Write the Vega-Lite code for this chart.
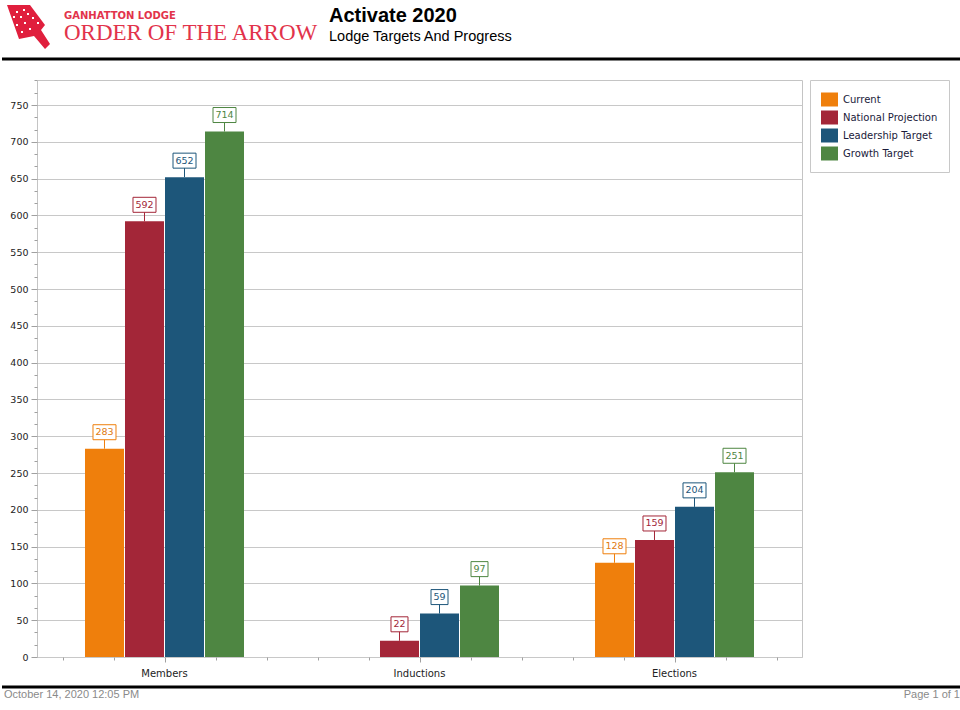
{
  "$schema": "https://vega.github.io/schema/vega-lite/v6.json",
  "padding": {"top": 1, "left": 0, "right": 0, "bottom": 0},
  "background": "white",
  "config": {"view": {"stroke": null}},
  "datasets": {
    "targets": [
      {"category": "Members", "series": "Current", "value": 283},
      {"category": "Members", "series": "National Projection", "value": 592},
      {"category": "Members", "series": "Leadership Target", "value": 652},
      {"category": "Members", "series": "Growth Target", "value": 714},
      {"category": "Inductions", "series": "Current", "value": 0},
      {"category": "Inductions", "series": "National Projection", "value": 22},
      {"category": "Inductions", "series": "Leadership Target", "value": 59},
      {"category": "Inductions", "series": "Growth Target", "value": 97},
      {"category": "Elections", "series": "Current", "value": 128},
      {"category": "Elections", "series": "National Projection", "value": 159},
      {"category": "Elections", "series": "Leadership Target", "value": 204},
      {"category": "Elections", "series": "Growth Target", "value": 251}
    ]
  },
  "spacing": 13,
  "resolve": {"scale": {"color": "independent"}, "legend": {"color": "independent"}},
  "vconcat": [
    {
      "spacing": 0,
      "bounds": "flush",
      "hconcat": [
        {
          "width": 61,
          "height": 58,
          "data": {"values": [{"name": "Order of the Arrow"}]},
          "layer": [
            {
              "mark": {"type": "rule", "color": "black", "strokeWidth": 3},
              "encoding": {"y": {"datum": 0, "type": "quantitative", "scale": {"domain": [0, 1]}, "axis": null}}
            },
            {
              "mark": {
                "type": "point",
                "shape": "M-25.5,-25L-2.5,-25L12.5,-5L8.5,0L17.5,14L12.5,19L1.5,6L-13.5,9Z M-16.5,-19v2h2v-2z M-9.5,-21v2h2v-2z M-19.5,-14v2h2v-2z M-12.5,-14v2h2v-2z M-5.5,-17v2h2v-2z M-16.5,-6v2h2v-2z M-8.5,-8v2h2v-2z M-0.5,-13v2h2v-2z M-11.5,1v2h2v-2z M-3.5,-2v2h2v-2z M4.5,-8v2h2v-2z",
                "size": 4,
                "filled": true,
                "fill": "#e01f3d",
                "opacity": 1,
                "strokeWidth": 0
              },
              "encoding": {}
            }
          ]
        },
        {
          "width": 266,
          "height": 58,
          "data": {"values": [{}]},
          "title": {
            "text": "GANHATTON LODGE",
            "subtitle": "ORDER OF THE ARROW",
            "anchor": "start",
            "frame": "group",
            "offset": -44,
            "dx": 1,
            "font": "DejaVu Sans",
            "fontSize": 10,
            "fontWeight": "bold",
            "color": "#e2334b",
            "subtitleFont": "Liberation Serif",
            "subtitleFontSize": 23,
            "subtitleColor": "#e2334b",
            "subtitlePadding": 1
          },
          "mark": {"type": "rule", "color": "black", "strokeWidth": 3},
          "encoding": {"y": {"datum": 0, "type": "quantitative", "scale": {"domain": [0, 1]}, "axis": null}}
        },
        {
          "width": 633,
          "height": 58,
          "data": {"values": [{}]},
          "title": {
            "text": "Activate 2020",
            "subtitle": "Lodge Targets And Progress",
            "anchor": "start",
            "frame": "group",
            "offset": -42,
            "font": "Liberation Sans",
            "fontSize": 20,
            "fontWeight": "bold",
            "color": "black",
            "subtitleFont": "Liberation Sans",
            "subtitleFontSize": 14.5,
            "subtitleColor": "black",
            "subtitlePadding": 4
          },
          "mark": {"type": "rule", "color": "black", "strokeWidth": 3},
          "encoding": {"y": {"datum": 0, "type": "quantitative", "scale": {"domain": [0, 1]}, "axis": null}}
        }
      ]
    },
    {
      "spacing": 6,
      "resolve": {"scale": {"color": "independent"}, "legend": {"color": "independent"}},
      "vconcat": [
        {
          "spacing": 0,
          "bounds": "flush",
          "resolve": {"scale": {"color": "independent"}, "legend": {"color": "independent"}},
          "hconcat": [
            {
              "width": 35,
              "height": 1,
              "data": {"values": [{}]},
              "mark": {"type": "rule", "color": "white", "opacity": 0, "strokeWidth": 1},
              "encoding": {"y": {"datum": 0, "type": "quantitative", "scale": {"domain": [0, 1]}, "axis": null}}
            },
            {
              "width": 765,
              "height": 577,
              "view": {"stroke": "#c4c4c4"},
              "data": {"name": "targets"},
              "layer": [
                {
                  "encoding": {
                    "x": {
                      "field": "category",
                      "type": "nominal",
                      "sort": ["Members", "Inductions", "Elections"],
                      "scale": {"paddingInner": 0.0627, "paddingOuter": 0.03135},
                      "axis": {
                        "title": null,
                        "ticks": false,
                        "domain": false,
                        "labelAngle": 0,
                        "labelFont": "DejaVu Sans",
                        "labelFontSize": 10,
                        "labelColor": "#222222",
                        "labelPadding": 11
                      }
                    },
                    "xOffset": {
                      "field": "series",
                      "type": "nominal",
                      "sort": ["Current", "National Projection", "Leadership Target", "Growth Target"],
                      "scale": {"paddingInner": 0.025, "paddingOuter": 1}
                    },
                    "y": {
                      "field": "value",
                      "type": "quantitative",
                      "scale": {"domain": [0, 784], "nice": false},
                      "axis": {
                        "title": null,
                        "values": [0, 16.6667, 33.3333, 50, 66.6667, 83.3333, 100, 116.6667, 133.3333, 150, 166.6667, 183.3333, 200, 216.6667, 233.3333, 250, 266.6667, 283.3333, 300, 316.6667, 333.3333, 350, 366.6667, 383.3333, 400, 416.6667, 433.3333, 450, 466.6667, 483.3333, 500, 516.6667, 533.3333, 550, 566.6667, 583.3333, 600, 616.6667, 633.3333, 650, 666.6667, 683.3333, 700, 716.6667, 733.3333, 750, 766.6667, 783.3333],
                        "labelExpr": "datum.value % 50 === 0 ? datum.label : ''",
                        "labelOverlap": false,
                        "labelFont": "DejaVu Sans",
                        "labelFontSize": 9.5,
                        "labelColor": "#222222",
                        "labelPadding": 3,
                        "domain": false,
                        "tickColor": "#a0a0a0",
                        "tickSize": {"condition": {"test": "datum.value % 50 === 0", "value": 6}, "value": 3},
                        "gridColor": "#c8c8c8",
                        "gridOpacity": {"condition": {"test": "datum.value % 50 === 0", "value": 1}, "value": 0}
                      }
                    }
                  },
                  "layer": [
                    {
                      "mark": {"type": "bar"},
                      "encoding": {
                        "color": {
                          "field": "series",
                          "type": "nominal",
                          "scale": {
                            "domain": ["Current", "National Projection", "Leadership Target", "Growth Target"],
                            "range": ["#ef7f0c", "#a32638", "#1d567a", "#4e8642"]
                          },
                          "legend": {
                            "title": null,
                            "orient": "right",
                            "offset": 8,
                            "padding": 11,
                            "strokeColor": "#c8c8c8",
                            "fillColor": "white",
                            "symbolType": "M-1,-0.8235H1V0.8235H-1Z",
                            "symbolSize": 289,
                            "symbolStrokeWidth": 0,
                            "symbolOpacity": 1,
                            "labelFont": "DejaVu Sans",
                            "labelFontSize": 10,
                            "labelColor": "#1a1a3a",
                            "labelOffset": 5,
                            "rowPadding": 2,
                            "labelLimit": 200
                          }
                        }
                      }
                    },
                    {
                      "transform": [{"filter": "datum.value > 0"}],
                      "mark": {"type": "point", "filled": true, "fill": "white", "size": 4, "opacity": 1, "strokeWidth": 1},
                      "encoding": {
                        "stroke": {
                          "condition": [
                            {"test": "datum.series === 'Current'", "value": "#ef7f0c"},
                            {"test": "datum.series === 'National Projection'", "value": "#a32638"},
                            {"test": "datum.series === 'Leadership Target'", "value": "#1d567a"}
                          ],
                          "value": "#4e8642"
                        },
                        "shape": {
                          "condition": {"test": "datum.value < 100", "value": "M0,0V-9M-8.5,-9H8.5V-24H-8.5Z"},
                          "value": "M0,0V-9M-11.5,-9H11.5V-24H-11.5Z"
                        }
                      }
                    },
                    {
                      "transform": [{"filter": "datum.value > 0"}],
                      "mark": {"type": "text", "dy": -16.5, "baseline": "middle", "font": "DejaVu Sans", "fontSize": 9.5},
                      "encoding": {
                        "text": {"field": "value", "type": "quantitative"},
                        "color": {
                          "condition": [
                            {"test": "datum.series === 'Current'", "value": "#e07a10"},
                            {"test": "datum.series === 'National Projection'", "value": "#a32638"},
                            {"test": "datum.series === 'Leadership Target'", "value": "#1d567a"}
                          ],
                          "value": "#4e8642"
                        }
                      }
                    }
                  ]
                },
                {
                  "mark": {"type": "rule", "opacity": 0},
                  "encoding": {
                    "x": {
                      "datum": 0,
                      "type": "quantitative",
                      "scale": {"domain": [0, 15], "nice": false, "zero": false},
                      "axis": {
                        "orient": "bottom",
                        "title": null,
                        "values": [0.5, 1.5, 2.5, 3.5, 4.5, 5.5, 6.5, 7.5, 8.5, 9.5, 10.5, 11.5, 12.5, 13.5, 14.5],
                        "labels": false,
                        "domain": false,
                        "grid": false,
                        "tickColor": "#a0a0a0",
                        "tickSize": {"condition": {"test": "(datum.value - 2.5) % 5 === 0", "value": 5}, "value": 3}
                      }
                    }
                  }
                }
              ],
              "resolve": {"scale": {"x": "independent"}, "axis": {"x": "independent"}}
            }
          ]
        },
        {
          "spacing": 0,
          "bounds": "flush",
          "hconcat": [
            {
              "width": 480,
              "height": 1,
              "data": {"values": [{}]},
              "title": {
                "text": "October 14, 2020 12:05 PM",
                "orient": "bottom",
                "anchor": "start",
                "frame": "group",
                "offset": 0,
                "dx": 2,
                "font": "Liberation Sans",
                "fontSize": 11,
                "fontWeight": "normal",
                "color": "#8a8a8a"
              },
              "mark": {"type": "rule", "color": "black", "strokeWidth": 3},
              "encoding": {"y": {"datum": 1, "type": "quantitative", "scale": {"domain": [0, 1]}, "axis": null}}
            },
            {
              "width": 480,
              "height": 1,
              "data": {"values": [{}]},
              "title": {
                "text": "Page 1 of 1",
                "orient": "bottom",
                "anchor": "end",
                "frame": "group",
                "offset": 0,
                "dx": -2,
                "font": "Liberation Sans",
                "fontSize": 11,
                "fontWeight": "normal",
                "color": "#8a8a8a"
              },
              "mark": {"type": "rule", "color": "black", "strokeWidth": 3},
              "encoding": {"y": {"datum": 1, "type": "quantitative", "scale": {"domain": [0, 1]}, "axis": null}}
            }
          ]
        }
      ]
    }
  ]
}
